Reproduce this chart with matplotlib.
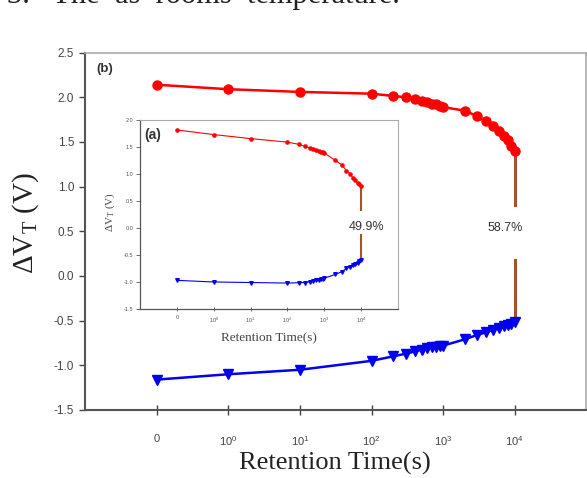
import matplotlib
matplotlib.use('Agg')
import matplotlib.pyplot as plt

plt.rcParams['font.family'] = ['Liberation Sans', 'DejaVu Sans']
plt.rcParams['axes.unicode_minus'] = False
plt.rcParams['mathtext.fontset'] = 'custom'
plt.rcParams['mathtext.rm'] = 'Liberation Serif'
plt.rcParams['mathtext.sf'] = 'Liberation Sans'

# retention times (s) of every reading
retention_time = [0, 1, 10, 100, 200, 300, 400, 500, 600, 700, 800, 900,
                  1000, 2000, 3000, 4000, 5000, 6000, 7000, 8000, 9000, 10000]

# (b) main panel
main_erase = [2.14, 2.09, 2.06, 2.04, 2.015, 2.0, 1.975, 1.96, 1.945, 1.93, 1.92,
              1.905, 1.89, 1.85, 1.79, 1.73, 1.68, 1.62, 1.57, 1.52, 1.46, 1.40]
main_program = [-1.16, -1.10, -1.05, -0.95, -0.90, -0.87, -0.845, -0.825, -0.81,
                -0.80, -0.79, -0.785, -0.78, -0.71, -0.66, -0.63, -0.60, -0.58,
                -0.56, -0.55, -0.54, -0.52]

# (a) inset panel
inset_erase = [1.815, 1.73, 1.655, 1.59, 1.55, 1.51, 1.485, 1.46, 1.445, 1.43, 1.415,
               1.405, 1.39, 1.25, 1.17, 1.06, 1.0, 0.93, 0.88, 0.84, 0.81, 0.78]
inset_program = [-0.97, -1.0, -1.01, -1.02, -1.015, -1.01, -0.995, -0.985, -0.97,
                 -0.96, -0.95, -0.94, -0.93, -0.86, -0.81, -0.75, -0.72, -0.69,
                 -0.66, -0.64, -0.62, -0.60]

tick_times = [0, 1, 10, 100, 1000, 10000]
tick_labels = ['0', r'$\mathsf{10^{0}}$', r'$\mathsf{10^{1}}$', r'$\mathsf{10^{2}}$',
               r'$\mathsf{10^{3}}$', r'$\mathsf{10^{4}}$']
main_yticks = [-1.5, -1.0, -0.5, 0.0, 0.5, 1.0, 1.5, 2.0, 2.5]
inset_yticks = [-1.5, -1.0, -0.5, 0.0, 0.5, 1.0, 1.5, 2.0]

main_window = '58.7%'
inset_window = '49.9%'
main_gap = [0.79, 0.175]     # break in the window bar around its label
inset_gap = [0.33, -0.13]

RED = '#ff0000'
BLUE = '#0000f0'
BROWN = '#a5522a'
SERIF = 'Liberation Serif'

fig = plt.figure(figsize=(5.87, 4.78), dpi=100)


def style_axes(ax, lw_main, lw_side):
    ax.set_xscale('symlog', base=10, linthresh=1, linscale=0.9)
    for side in ['left', 'bottom']:
        ax.spines[side].set_color('#555555')
        ax.spines[side].set_linewidth(lw_main)
    for side in ['top', 'right']:
        ax.spines[side].set_color('#aaaaaa')
        ax.spines[side].set_linewidth(lw_side)
    ax.set_xticks(tick_times)
    ax.set_xticklabels(tick_labels)
    ax.minorticks_off()


# main panel (b)
ax = fig.add_axes([0.1455, 0.1423, 0.853, 0.7477])
style_axes(ax, 1.5, 1.2)
ax.plot(retention_time, main_erase, '-o', color=RED, lw=1.8, ms=6.5, zorder=3)
ax.plot(retention_time, main_program, '-v', color=BLUE, lw=1.8, ms=6.5, zorder=3)
t_end = retention_time[-1]
ax.plot([t_end, t_end], [main_erase[-1], main_gap[0]], color=BROWN, lw=2.2, zorder=2)
ax.plot([t_end, t_end], [main_gap[1], main_program[-1]], color=BROWN, lw=2.2, zorder=2)
ax.annotate(main_window, xy=(t_end, 0.54), xytext=(-7, 0), textcoords='offset points',
            ha='center', va='center', fontsize=9, color='#333333')
ax.set_xlim(-1, 1e5)
ax.set_ylim(-1.5, 2.5)
ax.set_yticks(main_yticks)
ax.set_yticklabels([f'{v:.1f}' for v in main_yticks])
ax.tick_params(axis='y', direction='out', length=4, width=1, pad=4,
               labelsize=8.5, colors='#444444')
ax.tick_params(axis='x', direction='inout', length=7, width=1, pad=14,
               labelsize=8, colors='#444444')
ax.text(0.039, 0.954, '(b)', transform=ax.transAxes, ha='center', va='center',
        fontsize=9.5, fontweight='bold', color='#333333')

# inset panel (a)
ins = fig.add_axes([0.2385, 0.3536, 0.4395, 0.3954])
style_axes(ins, 0.9, 0.8)
ins.plot(retention_time, inset_erase, '-o', color=RED, lw=0.8, ms=2.3, zorder=3)
ins.plot(retention_time, inset_program, '-v', color=BLUE, lw=0.8, ms=2.6, zorder=3)
ins.plot([t_end, t_end], [inset_erase[-1], inset_gap[0]], color=BROWN, lw=1.5, zorder=2)
ins.plot([t_end, t_end], [inset_gap[1], inset_program[-1]], color=BROWN, lw=1.5, zorder=2)
ins.annotate(inset_window, xy=(t_end, 0.025), xytext=(4, 0), textcoords='offset points',
             ha='center', va='center', fontsize=9, color='#333333')
ins.set_xlim(-1, 1e5)
ins.set_ylim(-1.5, 2.0)
ins.set_yticks(inset_yticks)
ins.set_yticklabels([f'{v:.1f}' for v in inset_yticks])
ins.tick_params(axis='y', direction='out', length=3, width=0.6, pad=2,
                labelsize=4, colors='#555555')
ins.tick_params(axis='x', direction='inout', length=3, width=0.6, pad=3,
                labelsize=4, colors='#555555')
ins.text(0.05, 0.92, '(a)', transform=ins.transAxes, ha='center', va='center',
         fontsize=10, fontweight='bold', color='#333333')

# axis titles
fig.text(0.043, 0.533, r'ΔV$_\mathrm{T}$ (V)', rotation=90, ha='center', va='center',
         family=SERIF, fontsize=21, color='#222222')
fig.text(0.571, 0.031, 'Retention Time(s)', ha='center', va='center',
         family=SERIF, fontsize=19, color='#222222')
fig.text(0.187, 0.556, r'ΔV$_\mathrm{T}$ (V)', rotation=90, ha='center', va='center',
         family=SERIF, fontsize=8, color='#444444')
fig.text(0.458, 0.293, 'Retention Time(s)', ha='center', va='center',
         family=SERIF, fontsize=9.5, color='#444444')

# clipped caption line from the page above
fig.text(0.012, 1 - 3.5 / 478, '3.   The  as  rooms  temperature.', ha='left',
         va='baseline', family=SERIF, fontsize=22, color='#222222')

fig.savefig('out.png', dpi=100)
